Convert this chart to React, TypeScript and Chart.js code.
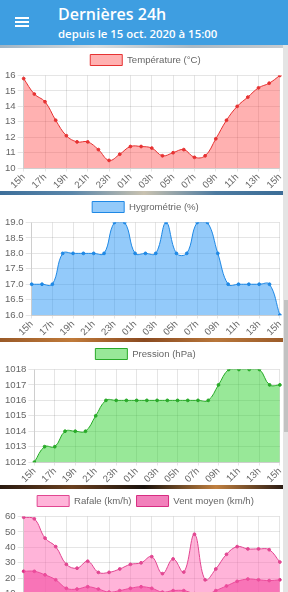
import React, { useEffect, useRef } from "react";
import { Chart, registerables } from "chart.js";

Chart.register(...registerables);

const hours = [
  "15h", "16h", "17h", "18h", "19h", "20h", "21h", "22h", "23h", "00h", "01h", "02h", "03h",
  "04h", "05h", "06h", "07h", "08h", "09h", "10h", "11h", "12h", "13h", "14h", "15h",
];

const temperature = [
  15.8, 14.8, 14.3, 13.1, 12.1, 11.7, 11.7, 11.2, 10.5, 10.9, 11.4, 11.4, 11.3,
  10.8, 11.0, 11.2, 10.7, 10.8, 11.9, 13.1, 14.0, 14.6, 15.2, 15.5, 16.0,
];

const hygrometry = [
  17, 17, 17, 18, 18, 18, 18, 18, 19, 19, 18, 18, 18,
  19, 18, 18, 19, 19, 18, 17, 17, 17, 17, 17, 16,
];

const pressure = [
  1012, 1013, 1013, 1014, 1014, 1014, 1015, 1016, 1016, 1016, 1016, 1016, 1016,
  1016, 1016, 1016, 1016, 1016, 1017, 1018, 1018, 1018, 1018, 1017, 1017,
];

const gust = [
  59.5, 58.5, 46, 40.5, 29, 26.5, 31, 23.8, 23.8, 26, 29, 30, 34,
  23, 32.5, 24, 48.5, 19, 26, 35.5, 40.5, 39, 39, 38.5, 30.5,
];

const meanWind = [
  24.5, 24.5, 22.2, 19, 13.5, 13, 14.5, 13, 11, 12, 13.5, 14.5, 13.5,
  11, 12, 12, 10, 9, 12, 15, 18, 19.5, 19, 18.5, 19,
];

const tempAxis = [10, 16, 1];
const hygroAxis = [16, 19, 0.5];
const pressureAxis = [1012, 1018, 1];
const windAxis = [0, 60, 10];

const FONT = "'Liberation Sans', Arial, Helvetica, sans-serif";
const FS = 9.6;
const TICK_COLOR = "#666";
const GRID = "rgba(0,0,0,0.1)";

type DS = {
  label: string;
  data: number[];
  fill: string;
  line: string;
};

function buildConfig(datasets: DS[], axis: number[], decimals: number): any {
  return {
    type: "line",
    data: {
      labels: hours,
      datasets: datasets.map((d) => ({
        label: d.label,
        data: d.data,
        backgroundColor: d.fill,
        borderColor: d.line,
        borderWidth: 1,
        pointRadius: 1.4,
        pointBorderWidth: 1,
        pointBackgroundColor: d.line,
        pointBorderColor: d.line,
        tension: 0.4,
        fill: "start",
      })),
    },
    options: {
      animation: false,
      responsive: false,
      devicePixelRatio: 1,
      layout: { padding: { left: 3, right: 0, top: 1.5, bottom: 0 } },
      font: { family: FONT, size: FS },
      plugins: {
        legend: {
          labels: {
            boxWidth: 32,
            boxHeight: 11,
            padding: 5,
            color: TICK_COLOR,
            font: { family: FONT, size: FS },
          },
        },
        tooltip: { enabled: false },
      },
      scales: {
        x: {
          grid: { color: GRID, tickLength: 3.4 },
          ticks: {
            color: TICK_COLOR,
            font: { family: FONT, size: FS },
            minRotation: 45,
            maxRotation: 45,
            padding: 0,
          },
        },
        y: {
          min: axis[0],
          max: axis[1],
          grid: { color: GRID, tickLength: 6 },
          ticks: {
            stepSize: axis[2],
            color: TICK_COLOR,
            padding: 2,
            font: { family: FONT, size: FS },
            callback: (v: any) => Number(v).toFixed(decimals),
          },
        },
      },
    },
  };
}

function ChartCard({ top, config }: { top: number; config: any }) {
  const ref = useRef<HTMLCanvasElement | null>(null);
  useEffect(() => {
    if (!ref.current) return;
    const chart = new Chart(ref.current, config);
    return () => chart.destroy();
  }, [config]);
  return (
    <div
      style={{
        position: "absolute",
        left: 0,
        top,
        width: 283,
        height: 143,
        background: "#fff",
      }}
    >
      <canvas
        ref={ref}
        width={288}
        height={143}
        style={{ position: "absolute", left: 0, top: 0, width: 288, height: 143 }}
      />
    </div>
  );
}

const tempConfig = buildConfig(
  [{ label: "Température (°C)", data: temperature, fill: "rgba(255,60,60,0.4)", line: "rgb(230,50,50)" }],
  tempAxis,
  0
);
const hygroConfig = buildConfig(
  [{ label: "Hygrométrie (%)", data: hygrometry, fill: "rgba(40,150,245,0.5)", line: "rgb(30,136,229)" }],
  hygroAxis,
  1
);
const pressureConfig = buildConfig(
  [{ label: "Pression (hPa)", data: pressure, fill: "rgba(50,210,50,0.5)", line: "rgb(40,170,40)" }],
  pressureAxis,
  0
);
const windConfig = buildConfig(
  [
    { label: "Rafale (km/h)", data: gust, fill: "rgba(255,105,180,0.5)", line: "rgb(225,70,145)" },
    { label: "Vent moyen (km/h)", data: meanWind, fill: "rgba(235,60,150,0.65)", line: "rgb(215,45,130)" },
  ],
  windAxis,
  0
);

export default function App() {
  useEffect(() => {
    document.body.style.margin = "0";
  }, []);
  const gap = (top: number, h: number, bg: string) => (
    <div style={{ position: "absolute", left: 0, top, width: 288, height: h, background: bg }} />
  );
  return (
    <div
      style={{
        position: "fixed",
        left: 0,
        top: 0,
        width: 288,
        height: 592,
        overflow: "hidden",
        background: "#6a7f90",
      }}
    >
      <div
        style={{
          position: "absolute",
          left: 0,
          top: 0,
          width: 288,
          height: 45,
          background: "rgb(62,158,225)",
          color: "#fff",
          fontFamily: "'Open Sans', sans-serif",
        }}
      >
        <div style={{ position: "absolute", left: 15, top: 17, width: 14 }}>
          {[0, 1, 2].map((i) => (
            <div key={i} style={{ height: 2, background: "#fff", marginBottom: 2 }} />
          ))}
        </div>
        <div style={{ position: "absolute", left: 58, top: 3, fontSize: 16, fontWeight: 600, lineHeight: "22px" }}>
          Dernières 24h
        </div>
        <div style={{ position: "absolute", left: 58, top: 26, fontSize: 11.4, fontWeight: 600, lineHeight: "15px" }}>
          depuis le 15 oct. 2020 à 15:00
        </div>
      </div>
      {gap(45, 3, "linear-gradient(90deg,#9fb4c4,#d8dde0,#a8b8c4,#c8ccd0)")}
      {gap(191, 4, "linear-gradient(90deg,#3d6f9a,#5a86aa,#c9c2b0,#4c7aa0,#3a6c96)")}
      {gap(338, 4, "linear-gradient(90deg,#9a5a28,#c07a3a,#8a4a20,#b8763a,#9a5a28)")}
      {gap(485, 4, "linear-gradient(90deg,#2a1a10,#6a4020,#1a120c,#c08040,#201410)")}
      <ChartCard top={48} config={tempConfig} />
      <ChartCard top={195} config={hygroConfig} />
      <ChartCard top={342} config={pressureConfig} />
      <ChartCard top={489} config={windConfig} />
      <div style={{ position: "absolute", left: 283, top: 45, width: 5, height: 547, background: "#e4e4e4" }} />
      <div style={{ position: "absolute", left: 284, top: 300, width: 4, height: 132, background: "#c2c2c2" }} />
    </div>
  );
}
